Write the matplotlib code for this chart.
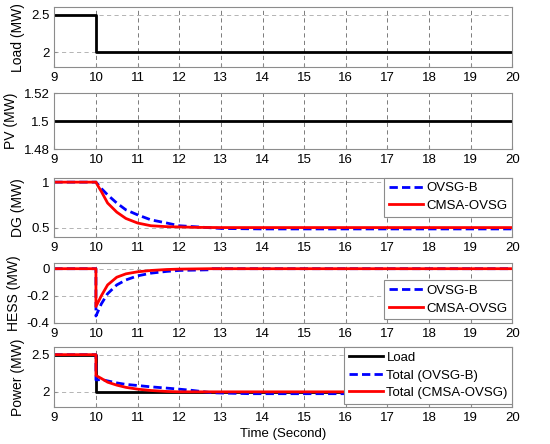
import matplotlib.pyplot as plt

plt.rcParams['font.family'] = ['Liberation Sans', 'DejaVu Sans']
plt.rcParams['font.size'] = 9.5

# time base
t_step = [9, 10, 10, 20]
load = [2.5, 2.5, 2.0, 2.0]
pv_t = [9, 20]
pv = [1.5, 1.5]

# DG output (MW)
dg_t = [9, 10, 10.06, 10.13, 10.28, 10.5, 10.72, 11, 11.32, 11.7, 12, 12.45, 13, 14, 20]
dg_b = [1.0, 1.0, 0.97, 0.93, 0.86, 0.77, 0.695, 0.64, 0.585, 0.55, 0.52, 0.507, 0.49, 0.485, 0.485]
dg_c = [1.0, 1.0, 0.95, 0.897, 0.77, 0.67, 0.6, 0.55, 0.52, 0.51, 0.507, 0.502, 0.5, 0.5, 0.5]

# HESS output (MW)
hess_t = [9, 10, 10, 10.13, 10.28, 10.5, 10.72, 11, 11.32, 11.7, 12, 12.75, 12.8, 20]
hess_b = [0, 0, -0.35, -0.26, -0.185, -0.12, -0.083, -0.053, -0.033, -0.02, -0.013, -0.008, 0, 0]
hess_c = [0, 0, -0.28, -0.2, -0.12, -0.063, -0.038, -0.023, -0.013, -0.006, -0.003, 0, 0, 0]

# total power (MW)
tot_t = [9, 10, 10, 10.13, 10.28, 10.5, 10.72, 11, 11.32, 11.7, 12, 12.3, 12.8, 13.7, 20]
tot_b = [2.5, 2.5, 2.16, 2.165, 2.147, 2.12, 2.1, 2.085, 2.067, 2.05, 2.036, 2.02, 1.987, 1.975, 1.975]
tot_c = [2.5, 2.5, 2.22, 2.18, 2.13, 2.09, 2.06, 2.036, 2.018, 2.005, 2.0, 2.0, 2.0, 2.0, 2.0]

xticks = list(range(9, 21))

fig = plt.figure(figsize=(5.5, 4.44), dpi=100)
left, width = 0.0987, 0.833
boxes = [(0.849, 0.135), (0.664, 0.126), (0.467, 0.133), (0.273, 0.134), (0.084, 0.134)]
axes = [fig.add_axes([left, b, width, h]) for b, h in boxes]


def style(ax, ylim, yticks, ylabel, yfmt=None):
    ax.set_xlim(9, 20)
    ax.set_ylim(*ylim)
    ax.set_xticks(xticks)
    ax.set_yticks(yticks)
    if yfmt:
        ax.set_yticklabels(yfmt)
    for sp in ax.spines.values():
        sp.set_color('#8c8c8c')
        sp.set_linewidth(0.8)
    ax.tick_params(direction='in', length=2, color='#8c8c8c', labelsize=9.5, pad=3.5)
    ax.grid(True, axis='x', color='#666666', linestyle=(0, (5, 4)), linewidth=0.6)
    ax.grid(True, axis='y', color='#a8a8a8', linestyle=(0, (5, 4)), linewidth=0.6)
    ax.set_axisbelow(True)
    ax.set_ylabel(ylabel, fontsize=10, labelpad=4)


def legend(ax, loc='upper right', anchor=(1.0, 1.0)):
    lg = ax.legend(loc=loc, bbox_to_anchor=anchor, borderaxespad=0.0,
                   fontsize=9.5, handlelength=2.6, handletextpad=0.25, labelspacing=0.4,
                   fancybox=False, framealpha=1, edgecolor='#8c8c8c', borderpad=0.35)
    lg.get_frame().set_linewidth(0.8)


ax = axes[0]
ax.plot(t_step, load, color='black', lw=2)
style(ax, (1.8, 2.6), [2, 2.5], 'Load (MW)', ['2', '2.5'])

ax = axes[1]
ax.plot(pv_t, pv, color='black', lw=2)
style(ax, (1.48, 1.52), [1.48, 1.5, 1.52], 'PV (MW)', ['1.48', '1.5', '1.52'])

ax = axes[2]
ax.plot(dg_t, dg_b, color='blue', lw=2, ls=(0, (3, 1.5)), label='OVSG-B')
ax.plot(dg_t, dg_c, color='red', lw=2, label='CMSA-OVSG')
style(ax, (0.4, 1.05), [0.5, 1], 'DG (MW)', ['0.5', '1'])
legend(ax)

ax = axes[3]
ax.plot(hess_t, hess_b, color='blue', lw=2, ls=(0, (3, 1.5)), label='OVSG-B')
ax.plot(hess_t, hess_c, color='red', lw=2, label='CMSA-OVSG')
style(ax, (-0.4, 0.04), [-0.4, -0.2, 0], 'HESS (MW)', ['-0.4', '-0.2', '0'])
legend(ax, loc='lower right', anchor=(1.0, 0.06))

ax = axes[4]
ax.plot(t_step, load, color='black', lw=2, label='Load')
ax.plot(tot_t, tot_b, color='blue', lw=2, ls=(0, (3, 1.5)), label='Total (OVSG-B)')
ax.plot(tot_t, tot_c, color='red', lw=2, label='Total (CMSA-OVSG)')
style(ax, (1.8, 2.6), [2, 2.5], 'Power (MW)', ['2', '2.5'])
legend(ax)
ax.set_xlabel('Time (Second)', fontsize=9.5, labelpad=3)

fig.savefig('out.png', dpi=100)
